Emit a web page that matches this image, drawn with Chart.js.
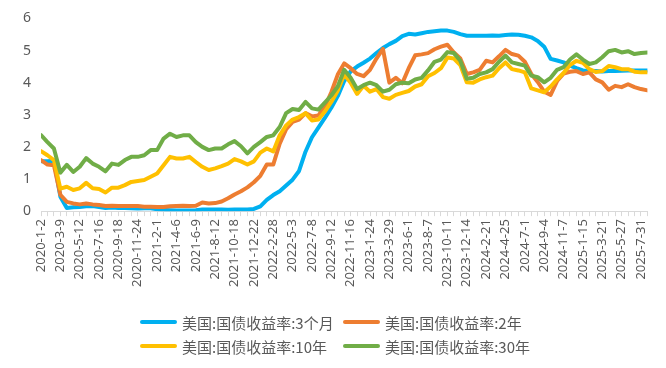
<!DOCTYPE html>
<html>
<head>
<meta charset="utf-8">
<script src="https://cdn.jsdelivr.net/npm/chart.js@4.4.1/dist/chart.umd.min.js"></script>
<style>
  body { margin: 0; background: #fff; }
  #wrap { position: relative; width: 666px; height: 368px; }
  #legend {
    position: absolute; left: 140px; top: 310px;
    display: grid; grid-template-columns: 203px 200px; row-gap: 0;
    font-family: "Noto Sans CJK SC", sans-serif; font-size: 15px; color: #595959;
  }
  .item { display: flex; align-items: center; height: 24px; white-space: nowrap; }
  .swatch { display: inline-block; width: 37px; height: 4px; border-radius: 2px; margin-right: 5px; }
</style>
</head>
<body>
<div id="wrap">
  <canvas id="myChart" width="666" height="368"></canvas>
  <div id="legend"></div>
</div>
<script>
// tick labels, one every 3 points
var tickLabels = [
  "2020-1-2", "2020-3-9", "2020-5-12", "2020-7-16", "2020-9-18", "2020-11-24",
  "2021-2-1", "2021-4-6", "2021-6-9", "2021-8-12", "2021-10-18", "2021-12-22",
  "2022-2-28", "2022-5-3", "2022-7-8", "2022-9-12", "2022-11-16", "2023-1-24",
  "2023-3-29", "2023-6-1", "2023-8-7", "2023-10-11", "2023-12-14", "2024-2-21",
  "2024-4-25", "2024-7-1", "2024-9-4", "2024-11-7", "2025-1-15", "2025-3-21",
  "2025-5-27", "2025-7-31"
];

var seriesNames = [
  "美国:国债收益率:3个月",
  "美国:国债收益率:2年",
  "美国:国债收益率:10年",
  "美国:国债收益率:30年"
];

var yield3m = [
  1.55, 1.55, 1.57, 0.45, 0.10, 0.12, 0.13, 0.15, 0.16, 0.13,
  0.10, 0.11, 0.10, 0.10, 0.09, 0.08, 0.09, 0.09, 0.06, 0.04,
  0.03, 0.02, 0.02, 0.02, 0.03, 0.05, 0.05, 0.05, 0.05, 0.04,
  0.05, 0.05, 0.05, 0.07, 0.15, 0.35, 0.50, 0.62, 0.80, 0.98,
  1.25, 1.85, 2.30, 2.60, 2.90, 3.22, 3.58, 4.05, 4.35, 4.50,
  4.62, 4.75, 4.92, 5.08, 5.20, 5.30, 5.45, 5.52, 5.50, 5.54,
  5.58, 5.60, 5.62, 5.62, 5.58, 5.51, 5.46, 5.46, 5.46, 5.46,
  5.47, 5.46, 5.48, 5.50, 5.49, 5.46, 5.41, 5.30, 5.12, 4.74,
  4.69, 4.63, 4.53, 4.45, 4.38, 4.37, 4.36, 4.35, 4.36, 4.36,
  4.37, 4.38, 4.38, 4.38, 4.38
];

var yield2y = [
  1.59, 1.45, 1.43, 0.51, 0.29, 0.24, 0.21, 0.24, 0.21, 0.19,
  0.16, 0.17, 0.16, 0.16, 0.16, 0.16, 0.14, 0.14, 0.13, 0.13,
  0.15, 0.16, 0.17, 0.16, 0.17, 0.27, 0.24, 0.25, 0.30, 0.40,
  0.52, 0.62, 0.74, 0.90, 1.10, 1.45, 1.45, 2.10, 2.55, 2.78,
  2.85, 3.05, 2.95, 2.98, 3.25, 3.70, 4.25, 4.60, 4.45, 4.27,
  4.20, 4.40, 4.75, 5.05, 4.00, 4.15, 3.98, 4.45, 4.85, 4.88,
  4.92, 5.04, 5.12, 5.18, 4.94, 4.75, 4.27, 4.32, 4.40, 4.68,
  4.63, 4.82, 5.02, 4.89, 4.84, 4.65, 4.27, 4.02, 3.72, 3.62,
  4.05, 4.28, 4.34, 4.36, 4.27, 4.32, 4.10, 4.01, 3.78, 3.90,
  3.86, 3.95, 3.86, 3.80, 3.76
];

var yield10y = [
  1.87, 1.74, 1.59, 0.70, 0.76, 0.66, 0.71, 0.88, 0.71, 0.69,
  0.58, 0.73, 0.73, 0.81, 0.91, 0.94, 0.97, 1.07, 1.17, 1.43,
  1.69, 1.64, 1.64, 1.69, 1.53, 1.38, 1.28, 1.33, 1.40, 1.48,
  1.62, 1.55, 1.45, 1.55, 1.82, 1.95, 1.86, 2.36, 2.67, 2.85,
  2.93, 3.05, 2.82, 2.85, 3.10, 3.40, 3.75, 4.25, 4.00, 3.65,
  3.90, 3.72, 3.80, 3.55, 3.50, 3.62, 3.68, 3.74, 3.88, 3.95,
  4.20, 4.30, 4.45, 4.78, 4.75, 4.55, 4.01, 4.00, 4.10, 4.17,
  4.22, 4.45, 4.63, 4.42, 4.38, 4.32, 3.82, 3.76, 3.70, 3.88,
  4.10, 4.30, 4.55, 4.68, 4.62, 4.42, 4.33, 4.36, 4.52, 4.48,
  4.42, 4.42, 4.34, 4.32, 4.32
];

var yield30y = [
  2.37, 2.15, 1.95, 1.20, 1.44, 1.22, 1.38, 1.65, 1.48, 1.38,
  1.24, 1.48, 1.44, 1.59, 1.69, 1.69, 1.74, 1.90, 1.90, 2.26,
  2.41, 2.31, 2.36, 2.36, 2.15, 2.00, 1.90, 1.95, 1.95, 2.08,
  2.18, 2.02, 1.80, 2.00, 2.15, 2.31, 2.36, 2.62, 3.05, 3.18,
  3.15, 3.40, 3.20, 3.16, 3.38, 3.60, 3.88, 4.40, 4.15, 3.80,
  3.92, 4.00, 3.92, 3.72, 3.78, 3.95, 4.00, 3.98, 4.10, 4.15,
  4.38, 4.65, 4.72, 4.95, 4.92, 4.68, 4.12, 4.15, 4.27, 4.32,
  4.42, 4.65, 4.84, 4.63, 4.58, 4.53, 4.22, 4.17, 4.01, 4.15,
  4.40, 4.48, 4.72, 4.88, 4.72, 4.58, 4.63, 4.79, 4.98, 5.02,
  4.94, 4.98, 4.89, 4.92, 4.94
];

var colors = ["#00B0F0", "#ED7D31", "#FFC000", "#70AD47"];

// x = point index, a tick label every 3 points
function toPoints(arr) {
  return arr.map(function (v, i) { return { x: i, y: v }; });
}

function makeSet(idx, arr, order) {
  return {
    label: seriesNames[idx],
    data: toPoints(arr),
    borderColor: colors[idx],
    backgroundColor: colors[idx],
    borderWidth: 4,
    borderCapStyle: "round",
    borderJoinStyle: "round",
    pointRadius: 0,
    tension: 0,
    order: order
  };
}

var ctx = document.getElementById("myChart").getContext("2d");
var myChart = new Chart(ctx, {
  type: "line",
  data: {
    datasets: [
      makeSet(0, yield3m, 3),
      makeSet(1, yield2y, 2),
      makeSet(2, yield10y, 1),
      makeSet(3, yield30y, 0)
    ]
  },
  options: {
    responsive: false,
    animation: false,
    layout: { padding: { left: 13, right: 17, top: 14, bottom: 78 } },
    scales: {
      x: {
        type: "linear",
        min: 0,
        max: yield3m.length - 1,
        border: { color: "#D9D9D9", width: 1 },
        grid: { drawOnChartArea: false, color: "#D9D9D9", tickLength: 5 },
        ticks: {
          stepSize: 1,
          autoSkip: false,
          minRotation: 90,
          maxRotation: 90,
          padding: 3,
          color: "#595959",
          font: { family: "'Noto Sans', sans-serif", size: 13 },
          callback: function (v) {
            return v % 3 === 0 ? tickLabels[v / 3] : "";
          }
        }
      },
      y: {
        min: 0,
        max: 6,
        border: { display: false },
        grid: { display: false, drawTicks: false },
        ticks: {
          stepSize: 1,
          padding: 10,
          color: "#595959",
          font: { family: "'Noto Sans', sans-serif", size: 14 }
        }
      }
    },
    plugins: {
      legend: { display: false },
      tooltip: { enabled: false }
    }
  }
});

// legend in two columns, same order as the datasets
var legendBox = document.getElementById("legend");
seriesNames.forEach(function (name, i) {
  var item = document.createElement("div");
  item.className = "item";
  item.innerHTML = '<span class="swatch" style="background:' + colors[i] + '"></span>' + name;
  legendBox.appendChild(item);
});
</script>
</body>
</html>
